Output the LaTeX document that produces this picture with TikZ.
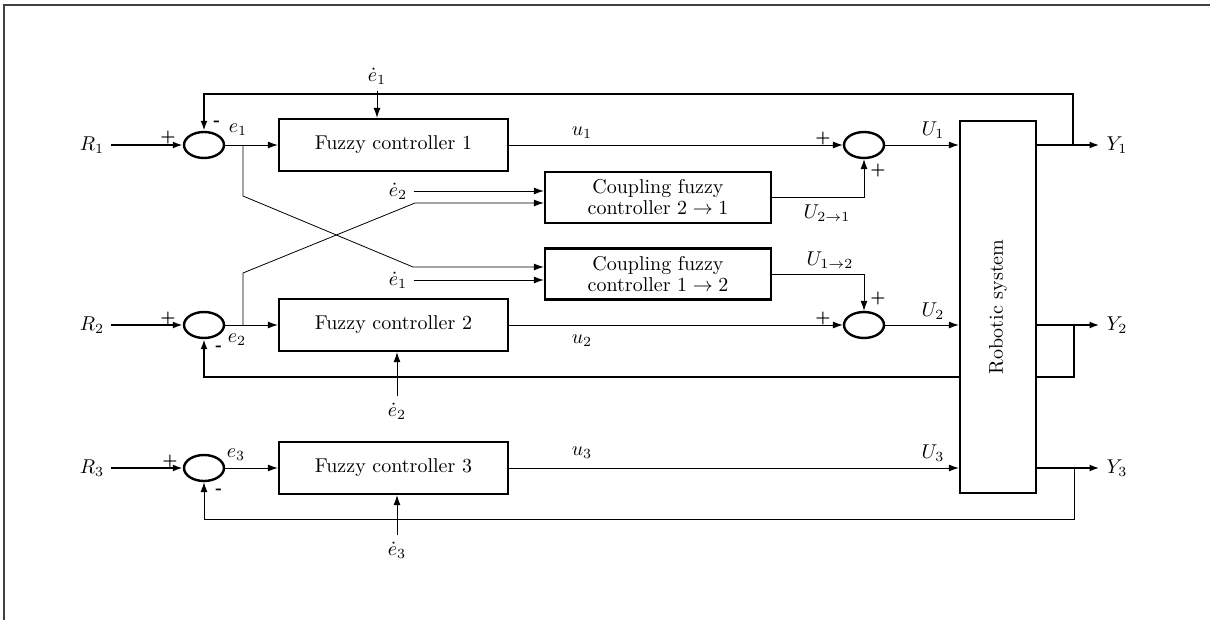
\documentclass[tikz,border=0pt]{standalone}
\usetikzlibrary{arrows.meta,shapes.geometric,backgrounds}
\begin{document}
\begin{tikzpicture}[x=0.5pt,y=-0.5pt, line width=1.2pt,
 arr/.style={-{Latex[length=5pt,width=3.5pt]}},
 fcbox/.style={draw, fill=white, minimum width=114.5pt, minimum height=26pt, inner sep=0pt},
 cpbox/.style={draw, fill=white, minimum width=113pt, minimum height=25.5pt, align=center, inner sep=0pt},
 robbox/.style={draw, fill=white, minimum width=38pt, minimum height=186pt, inner sep=0pt},
 sumnode/.style={draw, ellipse, minimum width=20pt, minimum height=13pt, inner sep=0pt},
 sgn/.style={font=\footnotesize\bfseries, inner sep=0pt},
 lbl/.style={inner sep=1pt},
 io/.style={inner sep=3pt}
]
\useasboundingbox (0,0) rectangle (1210,620);
\draw[line width=1.2pt, black!75] (4,620) -- (4,5) -- (1210,5);

% blocks
\node[fcbox] (fc1) at (393.5,145) {Fuzzy controller 1};
\node[fcbox] (fc2) at (393.5,325) {Fuzzy controller 2};
\node[fcbox] (fc3) at (393.5,468) {Fuzzy controller 3};
\node[cpbox] (c21) at (658,197.5) {Coupling fuzzy\\[-1.5pt]controller $2\rightarrow 1$};
\node[cpbox] (c12) at (658,274) {Coupling fuzzy\\[-1.5pt]controller $1\rightarrow 2$};
\node[robbox, label={[rotate=90]center:Robotic system}] (rob) at (998,307) {};

% summing junctions
\node[sumnode] (s1) at (204,145) {};
\node[sumnode] (s2) at (204,325) {};
\node[sumnode] (s3) at (204,468) {};
\node[sumnode] (t1) at (864,145) {};
\node[sumnode] (t2) at (864,325) {};

% inputs
\node[io] (R1) at (92,145) {$R_1$};
\node[io] (R2) at (92,325) {$R_2$};
\node[io] (R3) at (92,468) {$R_3$};
\draw[arr] (R1) -- (s1);
\draw[arr] (R2) -- (s2);
\draw[arr] (R3) -- (s3);

% outputs
\node[io] (Y1) at (1117,145) {$Y_1$};
\node[io] (Y2) at (1117,325) {$Y_2$};
\node[io] (Y3) at (1117,468) {$Y_3$};
\draw[arr] (rob.east |- Y1) -- (Y1);
\draw[arr] (rob.east |- Y2) -- (Y2);
\draw[arr] (rob.east |- Y3) -- (Y3);

% feedback
\coordinate (f1) at (1073,145);
\coordinate (f1t) at (1073,94);
\coordinate (f2) at (1074,325);
\coordinate (f2b) at (1074,377);
\coordinate (f3) at (1074,468);
\coordinate (f3b) at (1074,519);
\draw[arr] (f1) -- (f1t) -| (s1.north);
\begin{pgfonlayer}{background}
\draw[arr, line width=1.2pt] (f2) -- (f2b) -| (s2.south);
\end{pgfonlayer}
\draw[arr] (f3) -- (f3b) -| (s3.south);

% errors to controllers
\draw[arr] (s1) -- (fc1);
\draw[arr] (s2) -- (fc2);
\draw[arr] (s3) -- (fc3);
\node[lbl] (e1) at (238,130) {$e_1$};
\node[lbl] (e2) at (237,340) {$e_2$};
\node[lbl] (e3) at (236,455) {$e_3$};

% cross branches
\coordinate (b1) at (243,145);
\coordinate (k1) at (243,196);
\coordinate (k2) at (413,267);
\coordinate (b2) at (243,325);
\coordinate (k3) at (243,273);
\coordinate (k4) at (415,203);
\draw[arr] (b1) -- (k1) -- (k2) -- (k2 -| c12.west);
\draw[arr] (b2) -- (k3) -- (k4) -- (k4 -| c21.west);

% derivative inputs
\node[io] (de1a) at (377,76) {$\dot e_1$};
\draw[arr] (de1a) -- (de1a |- fc1.north);
\node[io] (de2a) at (398,191) {$\dot e_2$};
\draw[arr] (de2a) -- (de2a -| c21.west);
\node[io] (de1b) at (398,280) {$\dot e_1$};
\draw[arr] (de1b) -- (de1b -| c12.west);
\node[io] (de2b) at (397,411) {$\dot e_2$};
\draw[arr] (de2b) -- (de2b |- fc2.south);
\node[io] (de3) at (397,550) {$\dot e_3$};
\draw[arr] (de3) -- (de3 |- fc3.south);

% controller outputs
\draw[arr] (fc1) -- (t1);
\draw[arr] (fc2) -- (t2);
\draw[arr] (fc3.east) -- (fc3.east -| rob.west);
\draw[arr] (t1) -- (t1 -| rob.west);
\draw[arr] (t2) -- (t2 -| rob.west);
\draw[arr] (c21.east) -| (t1.south);
\draw[arr] (c12.east) -| (t2.north);

\node[lbl] (u1) at (582,133) {$u_1$};
\node[lbl] (u2) at (582,341) {$u_2$};
\node[lbl] (u3) at (582,453) {$u_3$};
\node[lbl] (U1) at (933,130) {$U_1$};
\node[lbl] (U2) at (933,311) {$U_2$};
\node[lbl] (U3) at (933,453) {$U_3$};
\node[lbl] (U21) at (827,213) {$U_{2\rightarrow 1}$};
\node[lbl] (U12) at (830,260) {$U_{1\rightarrow 2}$};

% signs
\node[sgn] (p1) at (168,138) {+};
\node[sgn] (p2) at (168,318) {+};
\node[sgn] (p3) at (170,461) {+};
\node[sgn] (m1) at (217,123) {-};
\node[sgn] (m2) at (219,348) {-};
\node[sgn] (m3) at (219,491) {-};
\node[sgn] (p4) at (823,139) {+};
\node[sgn] (p5) at (878,171) {+};
\node[sgn] (p6) at (878,299) {+};
\node[sgn] (p7) at (823,318) {+};
\end{tikzpicture}
\end{document}
